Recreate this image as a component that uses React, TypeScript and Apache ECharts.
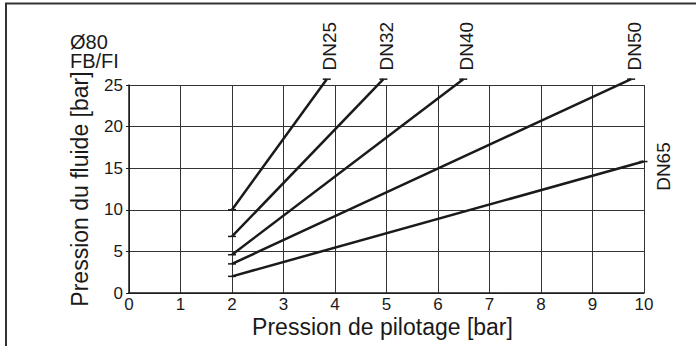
import React, { useEffect, useRef } from "react";
import * as echarts from "echarts";

const seriesNames = ["DN25", "DN32", "DN40", "DN50", "DN65"];
const startX = [2, 2, 2, 2, 2];
const startY = [10, 6.8, 4.6, 3.5, 2];
const endX = [3.84, 4.94, 6.49, 9.75, 9.99];
const endY = [25.7, 25.7, 25.7, 25.7, 15.8];
const xTicks = [0, 1, 2, 3, 4, 5, 6, 7, 8, 9, 10];
const yTicks = [0, 5, 10, 15, 20, 25];
const xName = "Pression de pilotage [bar]";
const yName = "Pression du fluide [bar]";
const noteText = "Ø80\nFB/FI";

const FONT = "'Liberation Sans', Arial, Helvetica, sans-serif";
const INK = "#1a1a1a";

export default function App() {
  const ref = useRef<HTMLDivElement>(null);
  useEffect(() => {
    document.body.style.margin = "0";
    const chart = echarts.init(ref.current!, null, { renderer: "svg" });
    const series = seriesNames.map((name, i) => {
      const sideLabel = endY[i] < 25;
      return {
        name,
        type: "line",
        clip: false,
        symbol: "rect",
        symbolSize: [8, 1.5],
        itemStyle: { color: INK },
        lineStyle: { color: INK, width: 2.5 },
        data: [
          { value: [startX[i], startY[i]] },
          {
            value: [endX[i], endY[i]],
            label: sideLabel
              ? {
                  show: true,
                  formatter: name,
                  position: "right",
                  distance: 16,
                  rotate: 90,
                  align: "center",
                  verticalAlign: "middle",
                  offset: [-5, 0],
                  fontSize: 19,
                  fontFamily: FONT,
                  color: INK,
                }
              : {
                  show: true,
                  formatter: name,
                  position: "top",
                  distance: 8,
                  rotate: 90,
                  align: "left",
                  verticalAlign: "middle",
                  offset: [0, 3],
                  fontSize: 19,
                  fontFamily: FONT,
                  color: INK,
                },
          },
        ],
      };
    });
    chart.setOption({
      animation: false,
      grid: { left: 129, right: 52, top: 85, bottom: 53, containLabel: false },
      graphic: [
        {
          type: "rect",
          shape: { x: 6, y: 3.5, width: 800, height: 400 },
          style: { fill: "none", stroke: "#333", lineWidth: 2 },
          silent: true,
        },
        {
          type: "text",
          left: 70,
          top: 32,
          style: {
            text: noteText,
            fontSize: 20,
            lineHeight: 19,
            fontFamily: FONT,
            fill: INK,
          },
        },
      ],
      xAxis: {
        type: "value",
        min: xTicks[0],
        max: xTicks[xTicks.length - 1],
        interval: 1,
        name: xName,
        nameLocation: "middle",
        nameGap: 22,
        nameMoveOverlap: false,
        nameTextStyle: {
          fontSize: 23,
          fontFamily: FONT,
          color: INK,
          padding: [0, 8, 0, 0],
        },
        axisLine: { show: true, lineStyle: { color: INK, width: 1.5 } },
        axisTick: { show: false },
        axisLabel: { fontSize: 17, fontFamily: FONT, color: INK, margin: 3 },
        splitLine: { show: true, lineStyle: { color: "#333", width: 1 } },
      },
      yAxis: {
        type: "value",
        min: yTicks[0],
        max: yTicks[yTicks.length - 1],
        interval: 5,
        name: yName,
        nameLocation: "middle",
        nameGap: 38,
        nameMoveOverlap: false,
        nameTextStyle: { fontSize: 23, fontFamily: FONT, color: INK },
        axisLine: { show: true, lineStyle: { color: INK, width: 1.5 } },
        axisTick: { show: true, length: 3, lineStyle: { color: INK } },
        axisLabel: { fontSize: 17, fontFamily: FONT, color: INK, margin: 6 },
        splitLine: { show: true, lineStyle: { color: "#333", width: 1 } },
      },
      series,
    });
    return () => chart.dispose();
  }, []);
  return <div ref={ref} style={{ width: 696, height: 346 }} />;
}
